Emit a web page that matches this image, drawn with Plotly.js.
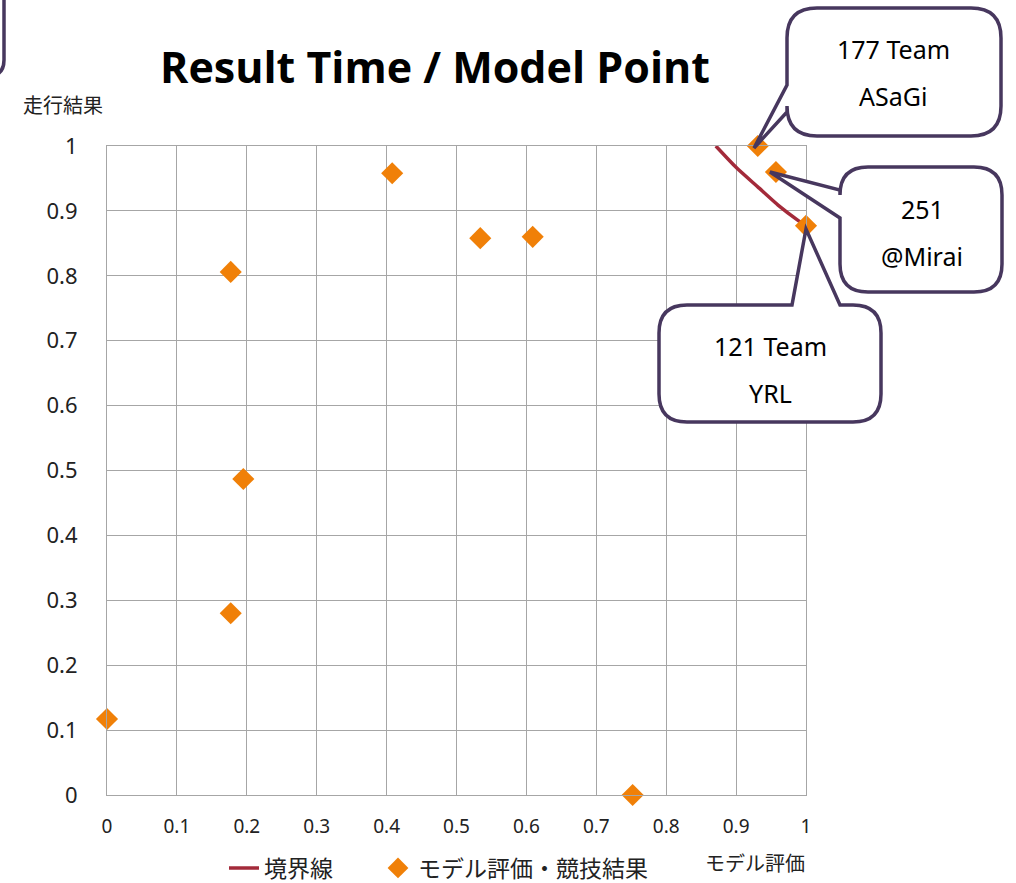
<!DOCTYPE html>
<html>
<head>
<meta charset="utf-8">
<script src="https://cdn.plot.ly/plotly-3.0.1.min.js"></script>
<style>html,body{margin:0;padding:0;background:#fff;}#chart{width:1016px;height:883px;}</style>
</head>
<body>
<div id="chart"></div>
<script>
// ---- data ----
const modelEval  = [0, 0.177, 0.177, 0.195, 0.408, 0.534, 0.609, 0.752, 0.931, 0.957, 1.0];
const resultTime = [0.117, 0.806, 0.280, 0.487, 0.958, 0.858, 0.860, 0.0, 1.0, 0.960, 0.877];
const boundaryX  = [0.871, 0.901, 0.931, 0.960, 0.989, 1.0];
const boundaryY  = [1.0, 0.966, 0.937, 0.909, 0.885, 0.877];
const tickVals   = [0, 0.1, 0.2, 0.3, 0.4, 0.5, 0.6, 0.7, 0.8, 0.9, 1];
const tickText   = ["0","0.1","0.2","0.3","0.4","0.5","0.6","0.7","0.8","0.9","1"];
const seriesNames = ["境界線", "モデル評価・競技結果"];
const callouts = [
  {lines:["177 Team","ASaGi"]},
  {lines:["251","@Mirai"]},
  {lines:["121 Team","YRL"]}
];

// ---- layout helpers (pixel -> paper) ----
const L = 107, R = 806, T = 146, B = 795;
const W = R - L, H = B - T;
const px = x => (x - L) / W;
const py = y => (B - y) / H;
const P = (x, y) => px(x).toFixed(5) + "," + py(y).toFixed(5);

// rounded rectangle with a tail: tail given as [edge, a, b, tipx, tipy]
function calloutPath(x0, y0, x1, y1, r, tail) {
  const [edge, a, b, tx, ty] = tail;
  let d = "M" + P(x0 + r, y0);
  if (edge === "top") d += " L" + P(a, y0) + " L" + P(tx, ty) + " L" + P(b, y0);
  d += " L" + P(x1 - r, y0) + " Q" + P(x1, y0) + " " + P(x1, y0 + r);
  d += " L" + P(x1, y1 - r) + " Q" + P(x1, y1) + " " + P(x1 - r, y1);
  d += " L" + P(x0 + r, y1) + " Q" + P(x0, y1) + " " + P(x0, y1 - r);
  if (edge === "left") d += " L" + P(x0, b) + " L" + P(tx, ty) + " L" + P(x0, a);
  d += " L" + P(x0, y0 + r) + " Q" + P(x0, y0) + " " + P(x0 + r, y0) + " Z";
  return d;
}

const border = "#47375e";
const shapes = [
  {type:"path", xref:"paper", yref:"paper", layer:"above",
   path: calloutPath(787, 8, 1001, 136, 30, ["left", 85, 112, 754, 148]),
   line:{color:border, width:3.5}, fillcolor:"#fff"},
  {type:"path", xref:"paper", yref:"paper", layer:"above",
   path: calloutPath(840, 167, 1002, 292, 28, ["left", 190, 218, 770, 172]),
   line:{color:border, width:3.5}, fillcolor:"#fff"},
  {type:"path", xref:"paper", yref:"paper", layer:"above",
   path: calloutPath(659, 305, 881, 422, 28, ["top", 792, 840, 806, 229]),
   line:{color:border, width:3.5}, fillcolor:"#fff"},
  {type:"path", xref:"paper", yref:"paper", layer:"above",
   path: "M" + P(4, -10) + " L" + P(4, 60) + " Q" + P(4, 76) + " " + P(-12, 76),
   line:{color:border, width:3.5}}
];

const cf = {family:"'Noto Sans', 'Noto Sans CJK JP', sans-serif", size:25, color:"#000"};
const centers = [[893, 49, 96], [922, 209, 256], [770, 346, 393]];
const annotations = [];
callouts.forEach((c, i) => {
  const [cx, y1, y2] = centers[i];
  annotations.push({xref:"paper", yref:"paper", x:px(cx), y:py(y1), text:c.lines[0], showarrow:false, font:cf, xanchor:"center", yanchor:"middle"});
  annotations.push({xref:"paper", yref:"paper", x:px(cx), y:py(y2), text:c.lines[1], showarrow:false, font:cf, xanchor:"center", yanchor:"middle"});
});
annotations.push({xref:"paper", yref:"paper", x:px(21), y:py(104), text:"走行結果", showarrow:false,
  font:{family:"'Noto Sans CJK JP', sans-serif", size:20, color:"#222"}, xanchor:"left", yanchor:"middle"});
annotations.push({xref:"paper", yref:"paper", x:px(807), y:py(862), text:"モデル評価", showarrow:false,
  font:{family:"'Noto Sans CJK JP', sans-serif", size:20, color:"#222"}, xanchor:"right", yanchor:"middle"});

const traces = [
  {x: boundaryX, y: boundaryY, name: seriesNames[0], type:"scatter", mode:"lines", legend:"legend",
   line:{color:"#a32a3a", width:3.5, shape:"spline", smoothing:0.6}, cliponaxis:false},
  {x: modelEval, y: resultTime, name: seriesNames[1], type:"scatter", mode:"markers", legend:"legend2",
   marker:{symbol:"diamond", size:17, color:"#f08008"}, cliponaxis:false}
];

const gridc = "#a6a6a6";
const tfam = "'Noto Sans', 'Noto Sans CJK JP', sans-serif";
const legFont = {family:"'Noto Sans CJK JP', sans-serif", size:23, color:"#222"};
const layout = {
  width:1016, height:883,
  margin:{l:L, r:1016 - R, t:T, b:883 - B, pad:0, autoexpand:false},
  paper_bgcolor:"#fff", plot_bgcolor:"#fff",
  title:{text:"<b>Result Time / Model Point</b>", x:px(435), xanchor:"center", y:1 - 68/883, yanchor:"middle", xref:"paper",
    font:{family:"'Open Sans', 'DejaVu Sans', sans-serif", size:43, color:"#000"}},
  xaxis:{range:[0,1], tickvals:tickVals, ticktext:tickText, showgrid:true, gridcolor:gridc, gridwidth:1,
    zeroline:false, showline:true, linecolor:gridc, linewidth:1, mirror:true, ticks:"",
    tickfont:{family:tfam, size:19, color:"#222"}, ticklabelstandoff:14, fixedrange:true, automargin:false},
  yaxis:{range:[0,1], tickvals:tickVals, ticktext:tickText, showgrid:true, gridcolor:gridc, gridwidth:1,
    zeroline:false, showline:true, linecolor:gridc, linewidth:1, mirror:true, ticks:"",
    tickfont:{family:tfam, size:22, color:"#222"}, ticklabelstandoff:24, fixedrange:true, automargin:false},
  showlegend:true,
  legend:{orientation:"h", x:px(224), xanchor:"left", y:py(868), yanchor:"middle",
    font:legFont, bgcolor:"rgba(0,0,0,0)", itemwidth:30},
  legend2:{orientation:"h", x:px(378), xanchor:"left", y:py(868), yanchor:"middle",
    font:legFont, bgcolor:"rgba(0,0,0,0)", itemwidth:30},
  shapes: shapes,
  annotations: annotations
};

Plotly.newPlot("chart", traces, layout, {displayModeBar:false, staticPlot:true});
</script>
</body>
</html>
